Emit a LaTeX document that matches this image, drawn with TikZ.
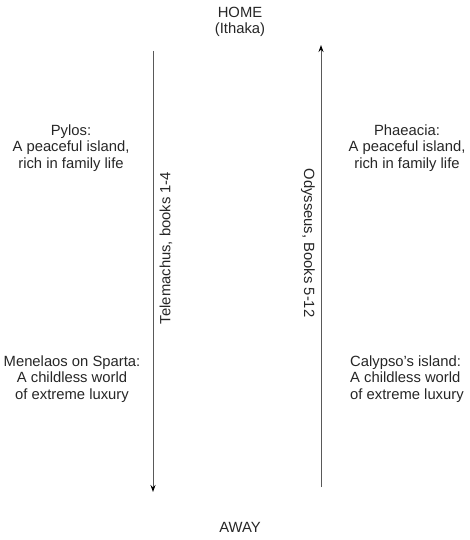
\documentclass[tikz,border=0pt]{standalone}
\usepackage{fontspec}
\setmainfont{Liberation Sans}
\usetikzlibrary{arrows.meta,positioning}

\begin{document}
\begin{tikzpicture}[x=1pt,y=-1pt,
  place/.style={align=center,font=\fontsize{14.8}{16.7}\selectfont,inner sep=0pt,text=black!85},
  route/.style={draw=black!65,line width=1pt,-{Stealth[length=7pt,width=5pt,black]}}]
\useasboundingbox (0,0) rectangle (469,540);
\node[place] (home) at (240,22) {HOME\\(Ithaka)};
\node[place] (away) at (240,527) {AWAY};
\node[place] (pylos) at (71,148) {Pylos:\\A peaceful island,\\rich in family life};
\node[place] (phaeacia) at (407,148) {Phaeacia:\\A peaceful island,\\rich in family life};
\node[place] (sparta) at (72,379) {Menelaos on Sparta:\\A childless world\\of extreme luxury};
\node[place,align=left,anchor=west] (calypso) at (350,379) {Calypso's island:\\A childless world\\of extreme luxury};
\coordinate (telstart) at (153,51);
\coordinate (telend) at (153,492);
\coordinate (odystart) at (321,487);
\coordinate (odyend) at (321,45);
\draw[route] (telstart) -- (telend);
\draw[route] (odystart) -- (odyend);
\node[place,rotate=90] (telemachus) at (166,248) {Telemachus, books 1-4};
\node[place,rotate=-90] (odysseus) at (308,243) {Odysseus, Books 5-12};
\end{tikzpicture}
\end{document}
